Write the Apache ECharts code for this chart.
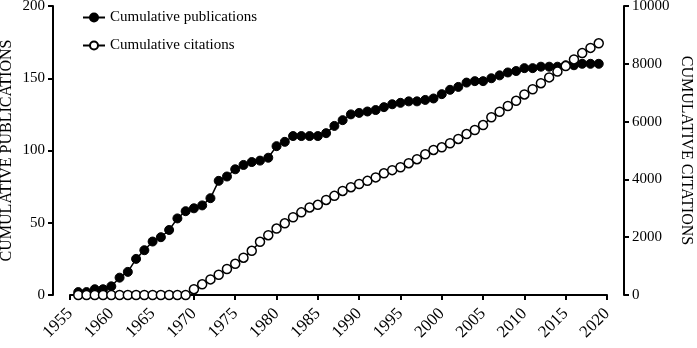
<!DOCTYPE html>
<html>
<head>
<meta charset="utf-8">
<script src="https://cdn.jsdelivr.net/npm/echarts@6/dist/echarts.min.js"></script>
<style>
  html, body { margin: 0; padding: 0; background: #fff; }
  #container { width: 697px; height: 348px; }
</style>
</head>
<body>
<div id="container"></div>
<script>
// years 1956..2019
var years = [];
for (var y = 1956; y <= 2019; y++) { years.push(y); }

var publications = [
    2, 2, 4, 4, 6, 12, 16, 25, 31, 37,
    40, 45, 53, 58, 60, 62, 67, 79, 82, 87,
    90, 92, 93, 95, 103, 106, 110, 110, 110, 110,
    112, 117, 121, 125, 126, 127, 128, 130, 132, 133,
    134, 134, 135, 136, 139, 142, 144, 147, 148, 148,
    150, 152, 154, 155, 157, 157, 158, 158, 158, 159,
    159, 160, 160, 160
];

var citations = [
    0, 0, 0, 0, 0, 0, 0, 0, 0, 0,
    0, 0, 0, 0, 200, 370, 540, 700, 900, 1080,
    1290, 1530, 1840, 2070, 2300, 2480, 2690, 2860, 3030, 3120,
    3290, 3430, 3600, 3730, 3840, 3950, 4070, 4210, 4320, 4420,
    4560, 4700, 4870, 5020, 5110, 5250, 5400, 5570, 5710, 5880,
    6150, 6340, 6540, 6720, 6940, 7120, 7330, 7530, 7730, 7920,
    8150, 8370, 8550, 8710
];

var font = 'Liberation Serif';

function pairs(vals) {
    var out = [];
    for (var i = 0; i < years.length; i++) {
        out.push([years[i], vals[i]]);
    }
    return out;
}

function plain(v) { return String(v); }

var axisStyle = { lineStyle: { color: '#000', width: 2 } };
var tickStyle = { show: true, inside: false, length: 5, lineStyle: { color: '#000', width: 2 } };

var mychart = echarts.init(document.getElementById('container'));
var option = {
    animation: false,
    backgroundColor: '#fff',
    textStyle: { fontFamily: font, color: '#000' },
    grid: { left: 70, right: 90, top: 6, bottom: 53, containLabel: false, outerBoundsMode: 'none' },
    legend: {
        orient: 'vertical',
        left: 77,
        top: 5,
        itemWidth: 22,
        itemHeight: 10,
        itemGap: 13,
        textStyle: { fontFamily: font, fontSize: 15, color: '#000' },
        data: ['Cumulative publications', 'Cumulative citations']
    },
    xAxis: {
        type: 'value',
        min: 1955,
        max: 2020,
        interval: 5,
        offset: 8,
        splitLine: { show: false },
        axisLine: axisStyle,
        axisTick: tickStyle,
        axisLabel: {
            rotate: 45,
            margin: 8,
            formatter: plain,
            fontFamily: font,
            fontSize: 17,
            color: '#000'
        }
    },
    yAxis: [
        {
            type: 'value',
            position: 'left',
            min: 0,
            max: 200,
            interval: 50,
            offset: 17,
            name: 'CUMULATIVE PUBLICATIONS',
            nameLocation: 'middle',
            nameRotate: 90,
            nameGap: 38,
            nameMoveOverlap: false,
            nameTextStyle: { fontFamily: font, fontSize: 16, color: '#000' },
            splitLine: { show: false },
            axisLine: { show: true, lineStyle: { color: '#000', width: 2 } },
            axisTick: tickStyle,
            axisLabel: { margin: 8, formatter: plain, fontFamily: font, fontSize: 15, color: '#000' }
        },
        {
            type: 'value',
            position: 'right',
            min: 0,
            max: 10000,
            interval: 2000,
            offset: 17,
            name: 'CUMULATIVE CITATIONS',
            nameLocation: 'middle',
            nameRotate: -90,
            nameGap: 54,
            nameMoveOverlap: false,
            nameTextStyle: { fontFamily: font, fontSize: 16, color: '#000' },
            splitLine: { show: false },
            axisLine: { show: true, lineStyle: { color: '#000', width: 2 } },
            axisTick: tickStyle,
            axisLabel: { margin: 8, formatter: plain, fontFamily: font, fontSize: 15, color: '#000' }
        }
    ],
    series: [
        {
            name: 'Cumulative publications',
            type: 'line',
            yAxisIndex: 0,
            data: pairs(publications),
            symbol: 'circle',
            symbolSize: 9,
            showAllSymbol: true,
            itemStyle: { color: '#000', borderColor: '#000', borderWidth: 1 },
            lineStyle: { color: '#000', width: 1.5 }
        },
        {
            name: 'Cumulative citations',
            type: 'line',
            yAxisIndex: 1,
            data: pairs(citations),
            symbol: 'circle',
            symbolSize: 9,
            showAllSymbol: true,
            itemStyle: { color: '#fff', borderColor: '#000', borderWidth: 1.5 },
            lineStyle: { color: '#000', width: 1.5 }
        }
    ]
};
mychart.setOption(option);
</script>
</body>
</html>
